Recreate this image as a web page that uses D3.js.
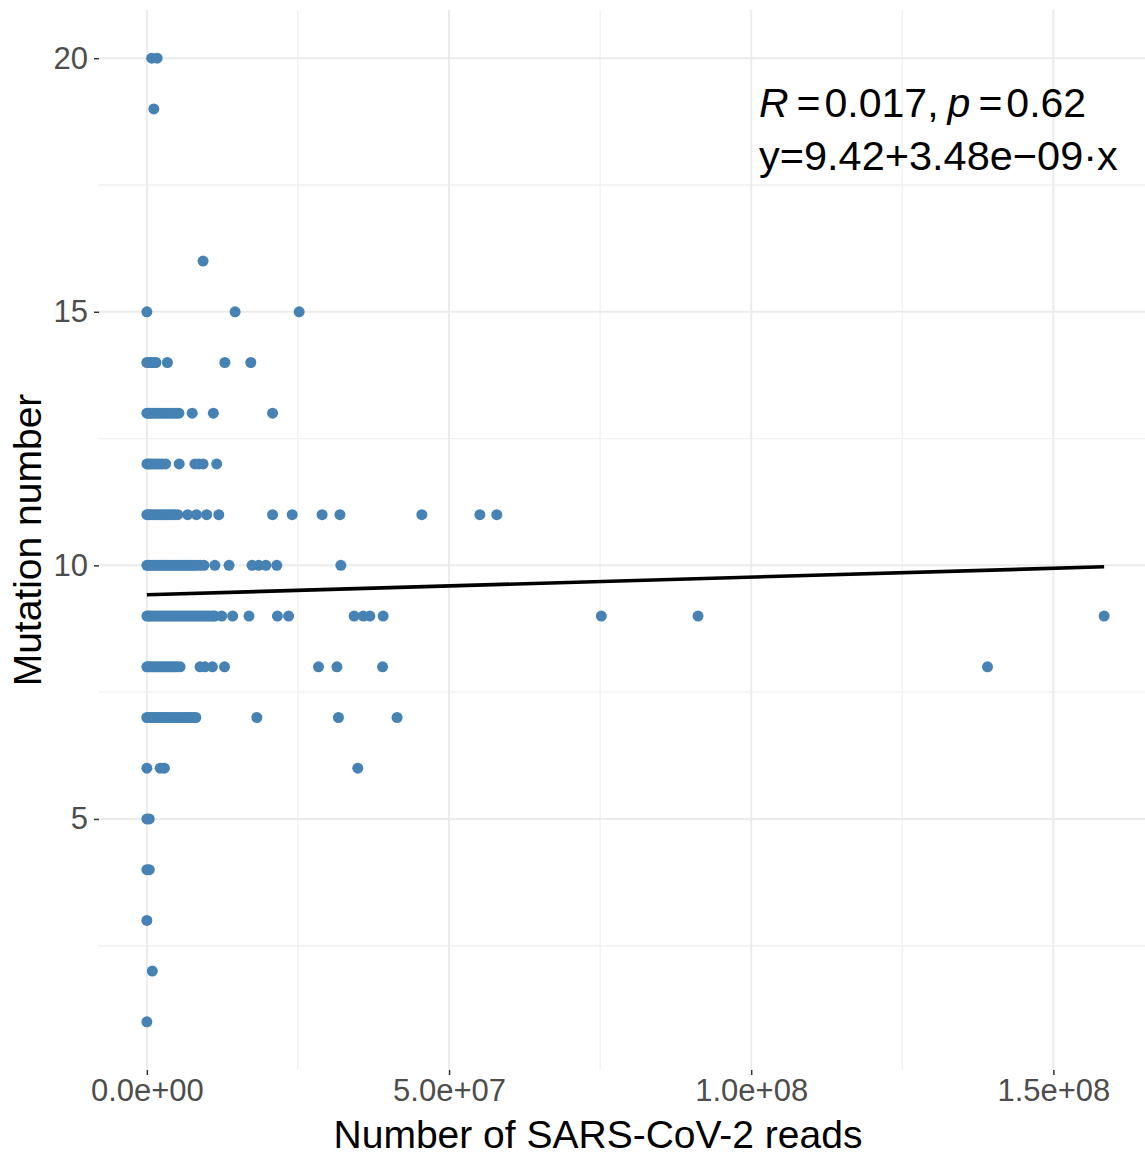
<!DOCTYPE html>
<html>
<head>
<meta charset="utf-8">
<script src="https://cdn.jsdelivr.net/npm/d3@7"></script>
<style>
  html, body { margin: 0; padding: 0; background: #fff; }
  svg { display: block; font-family: "Liberation Sans", Arial, Helvetica, sans-serif; }
</style>
</head>
<body>
<svg id="chart" width="1145" height="1156"></svg>
<script>
// Mutation counts (y) and, for each count, the SARS-CoV-2 read numbers (millions) of the samples
const mutationCounts = [20, 19, 16, 15, 14, 13, 12, 11, 10, 9, 8, 7, 6, 5, 4, 3, 2, 1];
const readsMillions = [
  [0.8, 1.7],
  [1.15],
  [9.3],
  [0, 14.6, 25.2],
  [0, 0.4, 0.8, 1.2, 1.5, 3.4, 12.9, 17.2],
  [0, 0.3, 0.6, 0.9, 1.3, 1.7, 2.1, 2.5, 2.9, 3.3, 3.7, 4.1, 4.5, 4.9, 5.3, 7.5, 11.0, 20.8],
  [0, 0.3, 0.6, 1.0, 1.4, 1.8, 2.2, 2.6, 3.1, 5.35, 7.95, 8.6, 9.3, 11.55],
  [0, 0.3, 0.6, 1.0, 1.4, 1.8, 2.2, 2.6, 3.0, 3.4, 3.8, 4.2, 4.6, 5.1, 6.75, 8.2, 9.9, 11.9,
   20.8, 24.05, 29.0, 31.95, 45.5, 55.1, 57.9],
  [0, 0.3, 0.6, 1.0, 1.4, 1.8, 2.2, 2.6, 3.0, 3.4, 3.8, 4.2, 4.6, 5.0, 5.4, 5.8, 6.2, 6.6, 7.0,
   7.4, 7.8, 8.2, 8.8, 9.45, 11.25, 13.6, 17.4, 18.5, 19.7, 21.5, 32.1],
  [0, 0.3, 0.6, 1.0, 1.4, 1.8, 2.2, 2.6, 3.0, 3.4, 3.8, 4.2, 4.6, 5.0, 5.4, 5.8, 6.2, 6.6, 7.0,
   7.4, 7.8, 8.2, 8.6, 9.0, 9.4, 9.8, 10.2, 10.6, 11.0, 11.25, 12.4, 14.2, 16.9, 21.6, 23.45,
   34.3, 35.8, 36.9, 39.1, 75.2, 91.2, 158.4],
  [0, 0.3, 0.6, 1.0, 1.4, 1.8, 2.2, 2.6, 3.0, 3.4, 3.8, 4.2, 4.6, 5.0, 5.5, 8.8, 9.6, 10.85,
   12.85, 28.4, 31.45, 39.0, 139.1],
  [0, 0.3, 0.6, 1.0, 1.4, 1.8, 2.2, 2.6, 3.0, 3.4, 3.8, 4.2, 4.6, 5.0, 5.4, 5.8, 6.2, 6.6, 7.0,
   7.4, 7.8, 8.1, 18.2, 31.7, 41.4],
  [0, 2.2, 2.9, 34.9],
  [0, 0.4],
  [0, 0.4],
  [0],
  [0.9],
  [0]
];

// Linear fit reported on the chart
const fitIntercept = 9.42;
const fitSlope = 3.48e-09;
const statR = "0.017";
const statP = "0.62";

const xTickValues = [0, 5e7, 1e8, 1.5e8];
const xTickLabels = ["0.0e+00", "5.0e+07", "1.0e+08", "1.5e+08"];
const xMinorValues = [2.5e7, 7.5e7, 1.25e8, 1.75e8];
const yTickValues = [5, 10, 15, 20];
const yMinorValues = [2.5, 7.5, 12.5, 17.5];

const points = [];
mutationCounts.forEach((m, i) => {
  readsMillions[i].forEach(r => points.push({ reads: r * 1e6, mutations: m }));
});

const svg = d3.select("#chart");
const panel = { left: 99, right: 1152, top: 10, bottom: 1070 };

// ggplot-style 5% expansion of the data range
function expanded(ext) {
  const pad = (ext[1] - ext[0]) * 0.05;
  return [ext[0] - pad, ext[1] + pad];
}
const xExt = d3.extent(points, d => d.reads);
const yExt = d3.extent(points, d => d.mutations);

const x = d3.scaleLinear().domain(expanded(xExt)).range([panel.left, panel.right]);
const y = d3.scaleLinear().domain(expanded(yExt)).range([panel.bottom, panel.top]);

svg.append("defs").append("clipPath").attr("id", "panel-clip")
  .append("rect")
  .attr("x", panel.left).attr("y", panel.top)
  .attr("width", panel.right - panel.left).attr("height", panel.bottom - panel.top);

const grid = svg.append("g").attr("clip-path", "url(#panel-clip)");

// minor grid
grid.selectAll("line.xminor").data(xMinorValues).join("line")
  .attr("x1", d => x(d)).attr("x2", d => x(d))
  .attr("y1", panel.top).attr("y2", panel.bottom)
  .attr("stroke", "#f0f0f0").attr("stroke-width", 1.3);
grid.selectAll("line.yminor").data(yMinorValues).join("line")
  .attr("x1", panel.left).attr("x2", panel.right)
  .attr("y1", d => y(d)).attr("y2", d => y(d))
  .attr("stroke", "#f0f0f0").attr("stroke-width", 1.3);
// major grid
grid.selectAll("line.xmajor").data(xTickValues).join("line")
  .attr("x1", d => x(d)).attr("x2", d => x(d))
  .attr("y1", panel.top).attr("y2", panel.bottom)
  .attr("stroke", "#ebebeb").attr("stroke-width", 2);
grid.selectAll("line.ymajor").data(yTickValues).join("line")
  .attr("x1", panel.left).attr("x2", panel.right)
  .attr("y1", d => y(d)).attr("y2", d => y(d))
  .attr("stroke", "#ebebeb").attr("stroke-width", 2);

// axes
const xAxis = d3.axisBottom(x)
  .tickValues(xTickValues)
  .tickFormat((d, i) => xTickLabels[i])
  .tickSizeInner(5).tickSizeOuter(0).tickPadding(4);
const gx = svg.append("g").attr("transform", `translate(0,${panel.bottom})`).call(xAxis);
gx.select(".domain").remove();
gx.selectAll(".tick line").attr("stroke", "#333").attr("stroke-width", 1.5);
gx.selectAll(".tick text").attr("fill", "#4d4d4d").style("font-size", "31px")
  .style("font-family", "'Liberation Sans', Arial, sans-serif");

const yAxis = d3.axisLeft(y)
  .tickValues(yTickValues)
  .tickSizeInner(5).tickSizeOuter(0).tickPadding(6);
const gy = svg.append("g").attr("transform", `translate(${panel.left},0)`).call(yAxis);
gy.select(".domain").remove();
gy.selectAll(".tick line").attr("stroke", "#333").attr("stroke-width", 1.5);
gy.selectAll(".tick text").attr("fill", "#4d4d4d").style("font-size", "31px")
  .style("font-family", "'Liberation Sans', Arial, sans-serif");

// points
svg.append("g").attr("clip-path", "url(#panel-clip)")
  .selectAll("circle").data(points).join("circle")
  .attr("cx", d => x(d.reads))
  .attr("cy", d => y(d.mutations))
  .attr("r", 5.5)
  .attr("fill", "steelblue");

// regression line over the data range
const fitLine = d3.line().x(d => x(d)).y(d => y(fitIntercept + fitSlope * d));
svg.append("path")
  .datum(xExt)
  .attr("d", fitLine)
  .attr("fill", "none")
  .attr("stroke", "#000")
  .attr("stroke-width", 3.6);

// axis titles
svg.append("text")
  .attr("x", 598).attr("y", 1148)
  .attr("text-anchor", "middle")
  .style("font-size", "39px").attr("fill", "#000")
  .text("Number of SARS-CoV-2 reads");

svg.append("text")
  .attr("transform", `translate(41,${(panel.top + panel.bottom) / 2}) rotate(-90)`)
  .attr("text-anchor", "middle")
  .style("font-size", "39px").attr("fill", "#000")
  .text("Mutation number");

// correlation and equation labels
const ann = svg.append("g").style("font-size", "41px").attr("fill", "#000");
const l1 = ann.append("text").attr("x", 759).attr("y", 117);
l1.append("tspan").style("font-style", "italic").text("R");
l1.append("tspan").attr("dx", 8).text("=");
l1.append("tspan").attr("dx", 4).text(statR + ",");
l1.append("tspan").attr("dx", 9).style("font-style", "italic").text("p");
l1.append("tspan").attr("dx", 8).text("=");
l1.append("tspan").attr("dx", 4).text(statP);

ann.append("text").attr("x", 759).attr("y", 170)
  .style("font-size", "41.5px")
  .text(`y=${fitIntercept.toFixed(2)}+3.48e\u221209\u00B7x`);
</script>
</body>
</html>
